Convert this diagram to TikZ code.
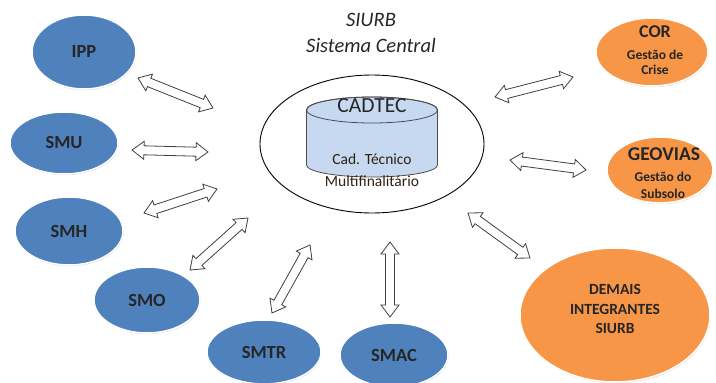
\documentclass[tikz,border=0pt]{standalone}
\usepackage{fontspec}
\setmainfont{Carlito}
\usetikzlibrary{shapes.geometric,calc,shadows}
\definecolor{blu}{HTML}{4F81BD}
\definecolor{org}{HTML}{F79646}
\definecolor{cylf}{HTML}{C6D9F1}
\definecolor{txtdark}{HTML}{262626}
\tikzset{
 bub/.style={ellipse, inner sep=0pt, draw=white, line width=1.5pt, text=black!85,
   drop shadow={opacity=0.25, shadow xshift=0.6pt, shadow yshift=-1.2pt}},
 bblue/.style={bub, fill=blu, font=\bfseries\fontsize{18.5}{20}\selectfont},
 borg/.style={bub, fill=org},
 lbl/.style={inner sep=0pt, text height=1.5ex, text depth=.25ex, text=black!85},
 arrowsty/.style={draw=black!75, fill=white, line width=0.8pt, line join=miter},
}
\newcommand{\dblarr}[2]{%
 \path ($(#1)!12pt!(#2)$) coordinate (h1) ($(#2)!12pt!(#1)$) coordinate (h2);
 \draw[arrowsty] (#1) -- ($(h1)!9pt!90:(#2)$) -- ($(h1)!4.5pt!90:(#2)$) -- ($(h2)!4.5pt!-90:(#1)$) -- ($(h2)!9pt!-90:(#1)$) -- (#2) -- ($(h2)!9pt!90:(#1)$) -- ($(h2)!4.5pt!90:(#1)$) -- ($(h1)!4.5pt!-90:(#2)$) -- ($(h1)!9pt!-90:(#2)$) -- cycle;}
\begin{document}
\begin{tikzpicture}[x=1pt,y=-1pt]
\useasboundingbox (0,0) rectangle (716,383);
% title
\node[lbl, text=txtdark, font=\itshape\fontsize{20.5}{22}\selectfont] (t1) at (371,24) {SIURB};
\node[lbl, text=txtdark, font=\itshape\fontsize{20.5}{22}\selectfont] (t2) at (371,50) {Sistema Central};
% central system
\node[ellipse, draw=black, line width=0.9pt, minimum width=224pt, minimum height=138pt, inner sep=0pt] (core) at (372,144) {};
\filldraw[fill=cylf, draw=black!70, line width=0.8pt] (306.5,110) -- (306.5,165) arc[start angle=180, end angle=0, x radius=65.5, y radius=12] -- (437.5,110) arc[start angle=0, end angle=-180, x radius=65.5, y radius=13] -- cycle;
\draw[draw=black!70, line width=0.8pt] (372,110) ellipse[x radius=65.5, y radius=13];
\node[lbl, text=txtdark, font=\fontsize{21.5}{23}\selectfont] (cad) at (372,110) {CADTEC};
\node[lbl, text=black!75!brown, font=\fontsize{15.5}{17}\selectfont] (cad1) at (372,162) {Cad. Técnico};
\node[lbl, text=black!75!brown, font=\fontsize{15.5}{17}\selectfont] (cad2) at (372,184) {Multifinalitário};
% blue nodes
\node[bblue, minimum width=104pt, minimum height=74pt] (ipp) at (84,52) {IPP};
\node[bblue, minimum width=108pt, minimum height=62pt] (smu) at (64,143) {SMU};
\node[bblue, minimum width=108pt, minimum height=68pt] (smh) at (69,231) {SMH};
\node[bblue, minimum width=106pt, minimum height=66pt] (smo) at (147,300) {SMO};
\node[bblue, minimum width=114pt, minimum height=64pt] (smtr) at (264,352) {SMTR};
\node[bblue, minimum width=108pt, minimum height=64pt] (smac) at (394,355) {SMAC};
% orange nodes
\node[borg, minimum width=112pt, minimum height=68pt] (cor) at (652,52) {};
\node[lbl, font=\bfseries\fontsize{18}{20}\selectfont] (cor1) at (655,35) {COR};
\node[lbl, font=\bfseries\fontsize{13.5}{15}\selectfont] (cor2) at (655,57) {Gestão de};
\node[lbl, font=\bfseries\fontsize{13.5}{15}\selectfont] (cor3) at (655,72) {Crise};
\node[borg, minimum width=106pt, minimum height=66pt] (geo) at (660,170) {};
\node[lbl, font=\bfseries\fontsize{19.5}{21}\selectfont] (geo1) at (664,158) {GEOVIAS};
\node[lbl, font=\bfseries\fontsize{13.5}{15}\selectfont] (geo2) at (663,179) {Gestão do};
\node[lbl, font=\bfseries\fontsize{13.5}{15}\selectfont] (geo3) at (663,196) {Subsolo};
\node[borg, minimum width=190pt, minimum height=134pt] (dem) at (615,315) {};
\node[lbl, font=\bfseries\fontsize{15.5}{17}\selectfont] (dem1) at (615,292) {DEMAIS};
\node[lbl, font=\bfseries\fontsize{15.5}{17}\selectfont] (dem2) at (615,312) {INTEGRANTES};
\node[lbl, font=\bfseries\fontsize{15.5}{17}\selectfont] (dem3) at (615,331) {SIURB};
% arrow end points
\coordinate (a1s) at (138,78);  \coordinate (a1e) at (213,108);
\coordinate (a2s) at (132,150); \coordinate (a2e) at (208,152);
\coordinate (a3s) at (144,213); \coordinate (a3e) at (217,189);
\coordinate (a4s) at (190,270); \coordinate (a4e) at (248,218);
\coordinate (a5s) at (272,313); \coordinate (a5e) at (310,245);
\coordinate (a6s) at (390,317); \coordinate (a6e) at (390,242);
\coordinate (a7s) at (495,97);  \coordinate (a7e) at (573,77);
\coordinate (a8s) at (510,160); \coordinate (a8e) at (586,170);
\coordinate (a9s) at (468,213); \coordinate (a9e) at (530,258);
\dblarr{a1s}{a1e}
\dblarr{a2s}{a2e}
\dblarr{a3s}{a3e}
\dblarr{a4s}{a4e}
\dblarr{a5s}{a5e}
\dblarr{a6s}{a6e}
\dblarr{a7s}{a7e}
\dblarr{a8s}{a8e}
\dblarr{a9s}{a9e}
\end{tikzpicture}
\end{document}
